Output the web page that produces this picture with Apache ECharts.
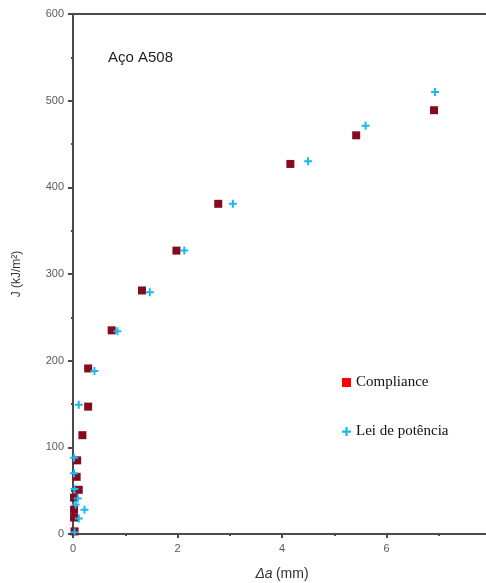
<!DOCTYPE html>
<html>
<head>
<meta charset="utf-8">
<script src="https://cdn.jsdelivr.net/npm/echarts@6/dist/echarts.min.js"></script>
<style>
  html, body { margin: 0; padding: 0; background: #fff; }
  #chart { width: 486px; height: 583px; }
</style>
</head>
<body>
<div id="chart"></div>
<script>
// Crack extension Δa (mm) and J-integral (kJ/m²) for A508 steel
const complianceDa = [0.03, 0.02, 0.02, 0.02, 0.11, 0.07, 0.08, 0.18, 0.29, 0.29, 0.74, 1.32, 1.98, 2.78, 4.16, 5.42, 6.91];
const complianceJ  = [3, 19, 28, 42, 51, 66, 85, 114, 147, 191, 235, 281, 327, 381, 427, 460, 489];

const powerLawDa = [0.03, 0.11, 0.22, 0.05, 0.09, 0.03, 0.02, 0.02, 0.11, 0.41, 0.85, 1.47, 2.13, 3.06, 4.50, 5.60, 6.93];
const powerLawJ  = [2, 18, 28, 34, 41, 52, 70, 88, 149, 188, 234, 279, 327, 381, 430, 471, 510];

const seriesNames = ['Compliance', 'Lei de potência'];
const xTicks = [0, 2, 4, 6, 8];
const yTicks = [0, 100, 200, 300, 400, 500, 600];

const plusPath = 'path://M3,0H5V3H8V5H5V8H3V5H0V3H3Z';
const axisColor = '#4a4a4a';
const labelColor = '#5a5a5a';

const pairs = (xs, ys) => xs.map((x, i) => [x, ys[i]]);

const chart = echarts.init(document.getElementById('chart'));
chart.setOption({
  animation: false,
  backgroundColor: '#fff',
  grid: {
    left: 73, top: 14, right: -5, bottom: 49,
    outerBoundsMode: 'none',
    containLabel: false,
    show: true, borderColor: axisColor, borderWidth: 2
  },
  title: {
    text: 'Aço A508',
    left: 103, top: 45,
    textStyle: { fontFamily: 'Liberation Sans, Arial', fontSize: 15, fontWeight: 'normal', color: '#222' }
  },
  legend: {
    orient: 'vertical',
    left: 337, top: 370,
    itemWidth: 9, itemHeight: 9, itemGap: 34,
    textStyle: { fontFamily: 'Liberation Serif, Times New Roman', fontSize: 15, color: '#111' },
    data: [
      { name: seriesNames[0], icon: 'rect', itemStyle: { color: '#ff0000' } },
      { name: seriesNames[1], icon: plusPath, itemStyle: { color: '#1ab8f0' } }
    ]
  },
  xAxis: {
    type: 'value',
    min: xTicks[0], max: xTicks[xTicks.length - 1], interval: 2,
    name: '{i|Δa} {n|(mm)}',
    nameLocation: 'middle', nameGap: 33,
    nameTextStyle: {
      rich: {
        i: { fontFamily: 'Liberation Sans, Arial', fontSize: 14, fontStyle: 'italic', color: '#333' },
        n: { fontFamily: 'Liberation Sans, Arial', fontSize: 14, color: '#333' }
      }
    },
    axisLine: { show: true, lineStyle: { color: axisColor, width: 2 } },
    axisTick: { show: true, length: 4, lineStyle: { color: axisColor, width: 2 } },
    minorTick: { show: true, splitNumber: 2, length: 2, lineStyle: { color: axisColor, width: 2 } },
    axisLabel: { color: labelColor, fontFamily: 'Liberation Sans, Arial', fontSize: 11, margin: 9 },
    splitLine: { show: false }
  },
  yAxis: {
    type: 'value',
    min: yTicks[0], max: yTicks[yTicks.length - 1], interval: 100,
    name: 'J (kJ/m²)',
    nameLocation: 'middle', nameGap: 50,
    nameTextStyle: { fontFamily: 'Liberation Sans, Arial', fontSize: 12, color: '#333' },
    axisLine: { show: true, lineStyle: { color: axisColor, width: 2 } },
    axisTick: { show: true, length: 5, lineStyle: { color: axisColor, width: 2 } },
    minorTick: { show: true, splitNumber: 2, length: 2, lineStyle: { color: axisColor, width: 2 } },
    axisLabel: { color: labelColor, fontFamily: 'Liberation Sans, Arial', fontSize: 11, margin: 9 },
    splitLine: { show: false }
  },
  series: [
    {
      name: seriesNames[0],
      type: 'scatter',
      symbol: 'rect',
      symbolSize: 8,
      itemStyle: { color: '#850a1e', opacity: 1 },
      data: pairs(complianceDa, complianceJ),
      z: 3
    },
    {
      name: seriesNames[1],
      type: 'scatter',
      symbol: plusPath,
      symbolSize: 8,
      itemStyle: { color: '#1ab8f0', opacity: 1 },
      data: pairs(powerLawDa, powerLawJ),
      z: 4
    }
  ]
});
</script>
</body>
</html>
